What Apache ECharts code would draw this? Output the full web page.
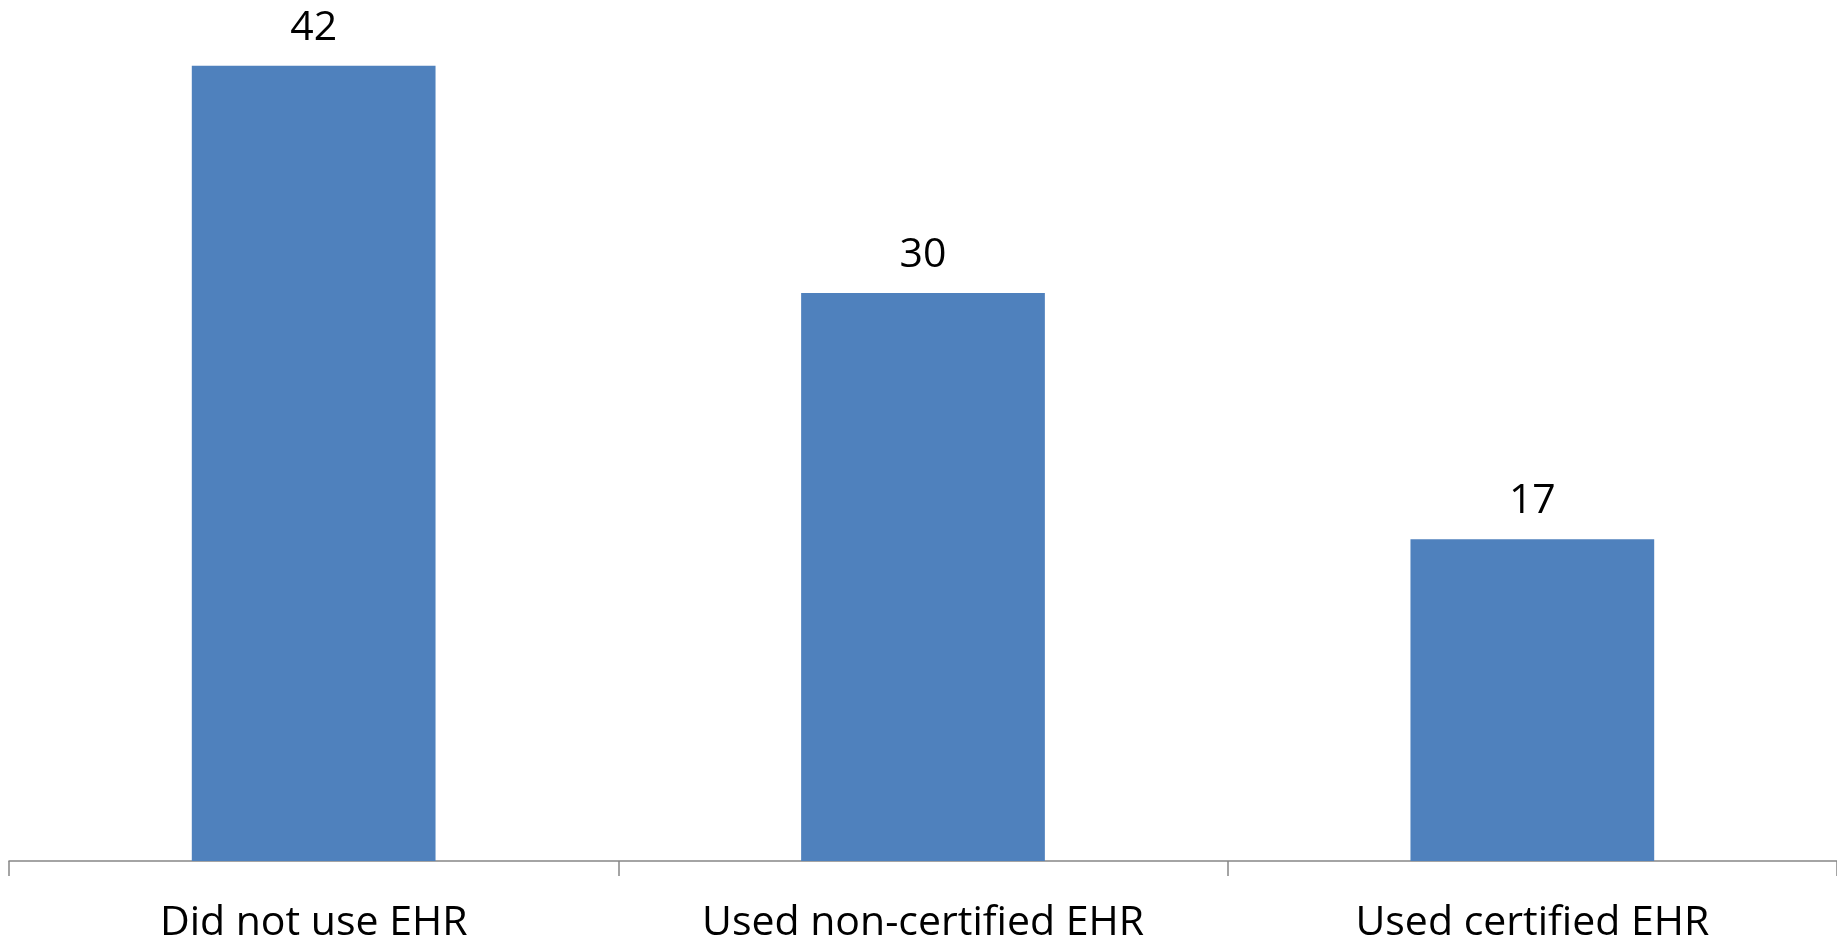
<!DOCTYPE html>
<html>
<head>
<meta charset="utf-8">
<script src="https://cdn.jsdelivr.net/npm/echarts@6/dist/echarts.min.js"></script>
<style>
    html, body { margin: 0; padding: 0; background: #fff; }
    #main { width: 1837px; height: 943px; }
</style>
</head>
<body>
<div id="main"></div>
<script>
var categories = ['Did not use EHR', 'Used non-certified EHR', 'Used certified EHR'];
var values = [42, 30, 17];

// 基于准备好的dom，初始化echarts实例
var myChart = echarts.init(document.getElementById('main'));
var option = {
    animation: false,
    grid: {
        left: 9,
        right: 0,
        top: 9,
        bottom: 82,
        outerBoundsMode: 'none'
    },
    xAxis: {
        type: 'category',
        data: categories,
        axisLine: { lineStyle: { color: '#868686', width: 1.5 } },
        axisTick: { show: true, length: 15, lineStyle: { color: '#868686', width: 1.5 } },
        axisLabel: {
            color: '#000',
            fontFamily: 'Open Sans',
            fontSize: 41,
            margin: 42
        }
    },
    yAxis: {
        type: 'value',
        min: 0,
        max: 45,
        show: false
    },
    series: [
        {
            type: 'bar',
            data: values,
            barWidth: '40%',
            itemStyle: { color: '#4F81BD' },
            label: {
                show: true,
                position: 'top',
                distance: 17,
                color: '#000',
                fontFamily: 'Open Sans',
                fontSize: 41
            }
        }
    ]
};
myChart.setOption(option);
</script>
</body>
</html>
